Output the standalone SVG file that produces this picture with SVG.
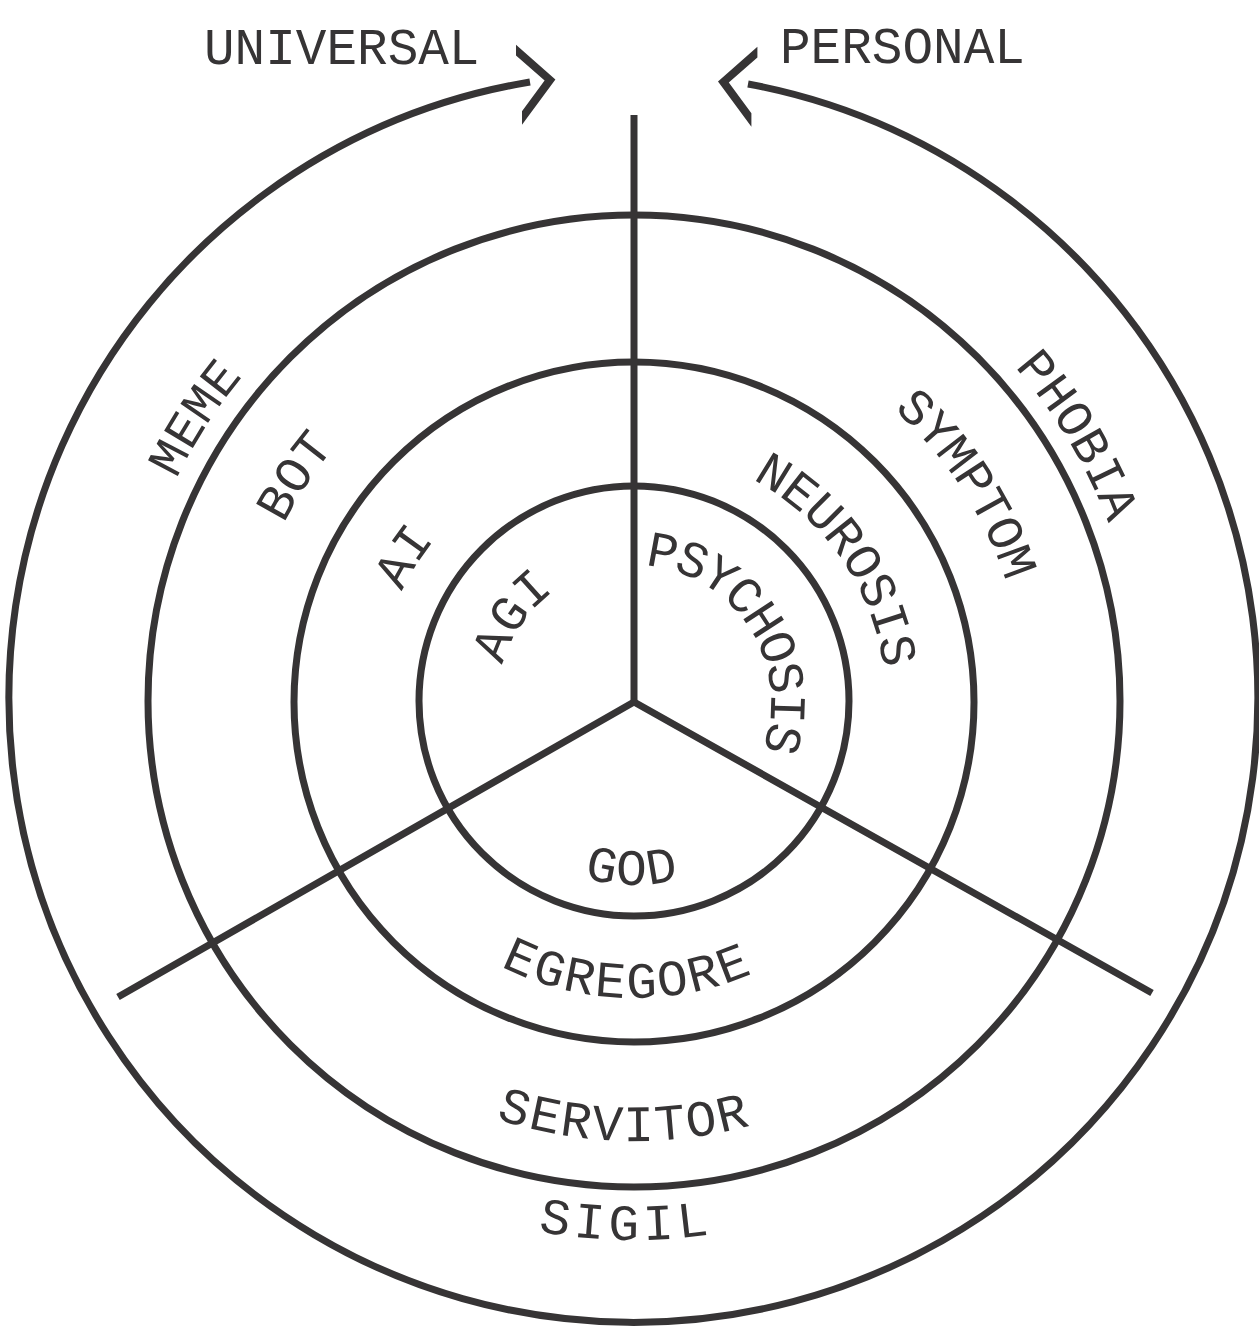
<svg xmlns="http://www.w3.org/2000/svg" xmlns:xlink="http://www.w3.org/1999/xlink" width="1259" height="1328" viewBox="0 0 1259 1328">
<style>
.ln{fill:none;stroke:#363435;stroke-width:7;stroke-linecap:butt;stroke-linejoin:miter}
.ar{fill:#363435;stroke:none}
.lb{font-family:'Liberation Mono','DejaVu Sans Mono',monospace;font-size:51px;fill:#363435}
</style>
<defs>
<path id="pMEME" d="M287.51,1074.86 A509,509 0 0 1 832.06,233.11"/>
<path id="pBOT" d="M362.73,986.36 A393,393 0 0 1 791.65,342.01"/>
<path id="pAI" d="M461.04,892.08 A257,257 0 0 1 731.52,464.22"/>
<path id="pAGI" d="M537.48,798.52 A136.5,136.5 0 0 1 691.69,578.29"/>
<path id="pPHOBIA" d="M452.31,228.68 A507,507 0 0 1 966.62,1084.64"/>
<path id="pSYMPTOM" d="M479.66,342.75 A391,391 0 0 1 901.91,986.79"/>
<path id="pNEUROSIS" d="M527.90,473.43 A252,252 0 0 1 811.88,880.50"/>
<path id="pPSYCHOSIS" d="M580.47,575.89 A137,137 0 0 1 727.43,802.19"/>
<path id="pGOD" d="M453.51,732.20 A183,183 0 0 0 813.93,735.35"/>
<path id="pEGREGORE" d="M341.33,746.26 A296,296 0 0 0 924.16,760.51"/>
<path id="pSERVITOR" d="M199.99,768.03 A439,439 0 0 0 1064.41,788.40"/>
<path id="pSIGIL" d="M102.85,787.55 A538,538 0 0 0 1162.38,803.27"/>
</defs>

<g id="rings">
<circle id="ring-inner" class="ln" cx="634" cy="701" r="215"/>
<circle id="ring-2" class="ln" cx="634" cy="702" r="340"/>
<circle id="ring-3" class="ln" cx="634" cy="701" r="486"/>
</g>

<g id="connectors">
<path id="outer-arc" class="ln" d="M530,82 A624.5,624.5 0 1 0 748,84"/>
<polygon id="arrow-universal" class="ar" points="516,44.8 555.4,79.4 522,124.7 522,111.2 544.6,80.6 516,55.4"/>
<polygon id="arrow-personal" class="ar" points="757.4,46.8 718,81.4 751.4,126.7 751.4,113.2 728.8,82.6 757.4,57.4"/>
<path id="spoke-top" class="ln" d="M634,115 L634,702"/>
<path id="spokes-bottom" class="ln" d="M118,997 L634,702 L1152,993"/>
</g>

<g id="label-universal"><text class="lb" x="204" y="64">UNIVERSAL</text></g>
<g id="label-personal"><text class="lb" x="780" y="63">PERSONAL</text></g>

<g id="label-meme"><text class="lb"><textPath xlink:href="#pMEME" href="#pMEME" startOffset="50%" text-anchor="middle">MEME</textPath></text></g>
<g id="label-bot"><text class="lb"><textPath xlink:href="#pBOT" href="#pBOT" startOffset="50%" text-anchor="middle">BOT</textPath></text></g>
<g id="label-ai"><text class="lb"><textPath xlink:href="#pAI" href="#pAI" startOffset="50%" text-anchor="middle">AI</textPath></text></g>
<g id="label-agi"><text class="lb"><textPath xlink:href="#pAGI" href="#pAGI" startOffset="50%" text-anchor="middle">AGI</textPath></text></g>
<g id="label-phobia"><text class="lb"><textPath xlink:href="#pPHOBIA" href="#pPHOBIA" startOffset="50%" text-anchor="middle">PHOBIA</textPath></text></g>
<g id="label-symptom"><text class="lb" letter-spacing="-1"><textPath xlink:href="#pSYMPTOM" href="#pSYMPTOM" startOffset="50%" text-anchor="middle">SYMPTOM</textPath></text></g>
<g id="label-neurosis"><text class="lb" letter-spacing="-0.8"><textPath xlink:href="#pNEUROSIS" href="#pNEUROSIS" startOffset="50%" text-anchor="middle">NEUROSIS</textPath></text></g>
<g id="label-psychosis"><text class="lb" letter-spacing="-2.8"><textPath xlink:href="#pPSYCHOSIS" href="#pPSYCHOSIS" startOffset="50%" text-anchor="middle">PSYCHOSIS</textPath></text></g>
<g id="label-god"><text class="lb" letter-spacing="2"><textPath xlink:href="#pGOD" href="#pGOD" startOffset="50%" text-anchor="middle">GOD</textPath></text></g>
<g id="label-egregore"><text class="lb" letter-spacing="2.2"><textPath xlink:href="#pEGREGORE" href="#pEGREGORE" startOffset="50%" text-anchor="middle">EGREGORE</textPath></text></g>
<g id="label-servitor"><text class="lb" letter-spacing="1.9"><textPath xlink:href="#pSERVITOR" href="#pSERVITOR" startOffset="50%" text-anchor="middle">SERVITOR</textPath></text></g>
<g id="label-sigil"><text class="lb" letter-spacing="4.8"><textPath xlink:href="#pSIGIL" href="#pSIGIL" startOffset="50%" text-anchor="middle">SIGIL</textPath></text></g>
</svg>
